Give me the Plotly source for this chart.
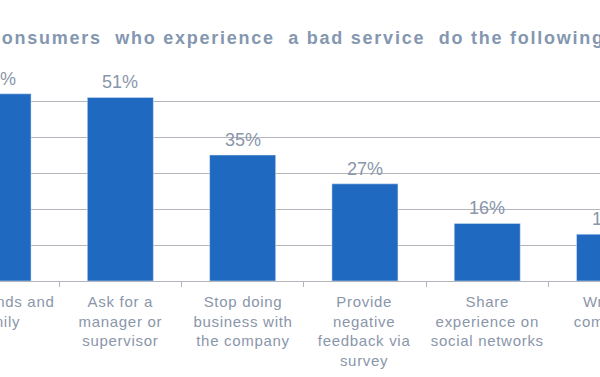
import plotly.graph_objects as go

categories = [
    "Tell friends and<br>family",
    "Ask for a<br>manager or<br>supervisor",
    "Stop doing<br>business with<br>the company",
    "Provide<br>negative<br>feedback via<br>survey",
    "Share<br>experience on<br>social networks",
    "Write a<br>complaint",
]
values = [52, 51, 35, 27, 16, 13]
labels = [f"{v}%" for v in values]

title_text = "Consumers&nbsp; who experience&nbsp; a bad service&nbsp; do the following"

BAR = "#1f69c1"
TXT = "#8a96aa"
TITLE = "#8497b0"
GRID = "#b4b4bc"
FONT = "Liberation Sans, Arial, sans-serif"

x_range = [0.016, 4.922]
idx = list(range(len(categories)))


def to_paper(i):
    return (i - x_range[0]) / (x_range[1] - x_range[0])


fig = go.Figure()
fig.add_trace(go.Bar(
    x=idx, y=values, marker_color=BAR, hoverinfo="skip",
))

# category labels (annotations 0..5)
for i, c in enumerate(categories):
    fig.add_annotation(
        x=to_paper(i), xref="paper",
        y=0, yref="y", yshift=-10, yanchor="top", xanchor="center",
        text=c, showarrow=False, align="center",
        font=dict(size=15, color=TXT, family=FONT),
    )

# value labels (annotations 6..11)
for i, (v, lab) in enumerate(zip(values, labels)):
    fig.add_annotation(
        x=to_paper(i), xref="paper",
        y=v, yref="y", yshift=3, yanchor="bottom", xanchor="center",
        text=lab, showarrow=False,
        font=dict(size=18, color=TXT, family=FONT),
    )

# title (annotation 12)
fig.add_annotation(
    x=-0.025, xref="paper", xanchor="left", align="left",
    y=1, yref="paper", yshift=27, yanchor="middle",
    text="<b>" + title_text + "</b>", showarrow=False,
    font=dict(size=18, color=TITLE, family=FONT),
)

fig.update_layout(
    width=600, height=377,
    margin=dict(l=0, r=0, t=65, b=96),
    paper_bgcolor="white", plot_bgcolor="white",
    bargap=0.46, showlegend=False,
    xaxis=dict(range=x_range, tickmode="array", tickvals=[i + 0.5 for i in idx],
               showticklabels=False, ticks="outside", ticklen=5, tickcolor=GRID,
               showline=True, linecolor=GRID, linewidth=1, showgrid=False, zeroline=False),
    yaxis=dict(range=[0, 60], dtick=10, showticklabels=False, showgrid=True,
               gridcolor=GRID, gridwidth=1, zeroline=False, showline=False),
)

post = """
document.body.style.margin = '0';
var gd = document.getElementById('{plot_id}');
gd.querySelectorAll('g.annotation').forEach(function(g) {
  var i = +g.getAttribute('data-index');
  var t = g.querySelector('text.annotation-text');
  if (!t) return;
  if (i < 6) t.style.letterSpacing = '0.7px';
  else if (i === 12) t.style.letterSpacing = '1.75px';
});
"""

fig.write_html("out.html", post_script=post, config={"displayModeBar": False})
